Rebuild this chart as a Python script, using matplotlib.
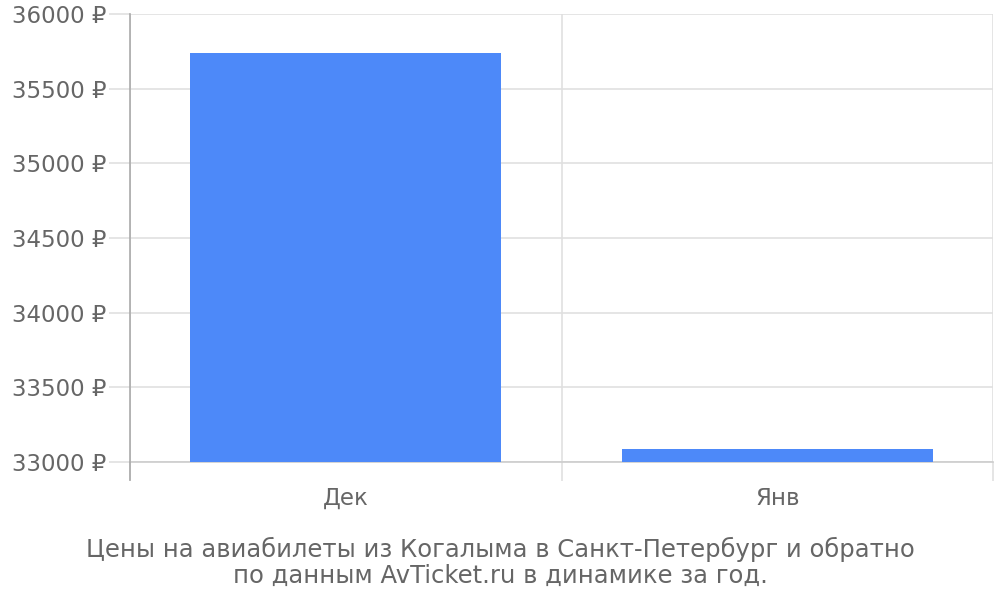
import matplotlib
matplotlib.use("Agg")
import matplotlib.pyplot as plt
from matplotlib.ticker import FixedLocator

# Data
months = ["Дек", "Янв"]
prices = [35740, 33087]
y_ticks = [33000, 33500, 34000, 34500, 35000, 35500, 36000]
caption_lines = ["Цены на авиабилеты из Когалыма в Санкт-Петербург и обратно",
                 "по данным AvTicket.ru в динамике за год."]

plt.rcParams['font.family'] = ['DejaVu Sans']
text_color = '#666666'
grid_color = '#e0e0e0'

fig = plt.figure(figsize=(10, 6), dpi=100)
ax = fig.add_axes([0.13, 0.23, 0.863, 0.7467])

x = list(range(len(months)))
ax.bar(x, [p - y_ticks[0] for p in prices], bottom=y_ticks[0], width=0.72,
       color='#4d89f9', zorder=3)

ax.set_xlim(-0.5, len(months) - 0.5)
ax.set_ylim(y_ticks[0], y_ticks[-1])

ax.set_yticks(y_ticks)
ax.set_yticklabels([f"{t} ₽" for t in y_ticks])
ax.set_xticks(x)
ax.set_xticklabels(months)
ax.xaxis.set_minor_locator(FixedLocator([i - 0.5 for i in range(len(months) + 1)]))

ax.grid(axis='y', color=grid_color, linewidth=1.2, zorder=0)
ax.grid(axis='x', which='minor', color=grid_color, linewidth=1.2, zorder=0)

ax.tick_params(axis='y', length=15, width=1.2, color=grid_color,
               labelsize=16.5, labelcolor=text_color, pad=2)
ax.tick_params(axis='x', which='major', length=0, labelsize=16.5,
               labelcolor=text_color, pad=18)
ax.tick_params(axis='x', which='minor', length=14, width=1.2, color=grid_color)

for s in ['top', 'right']:
    ax.spines[s].set_visible(False)
ax.spines['left'].set_color('#aaaaaa')
ax.spines['left'].set_linewidth(1.2)
ax.spines['left'].set_bounds(y_ticks[0], y_ticks[-1])
ax.spines['bottom'].set_color('#cccccc')
ax.spines['bottom'].set_linewidth(1.2)

# left spine extends below the axis
ax.plot([-0.5, -0.5], [0, -0.04], transform=ax.get_xaxis_transform(),
        color='#aaaaaa', linewidth=1.2, clip_on=False, zorder=4)

fig.text(0.5, 1 - 557 / 600, caption_lines[0], ha='center', va='baseline',
         fontsize=17.5, color=text_color)
fig.text(0.5, 1 - 583 / 600, caption_lines[1], ha='center', va='baseline',
         fontsize=17.5, color=text_color)

fig.savefig("out.png", dpi=100)
